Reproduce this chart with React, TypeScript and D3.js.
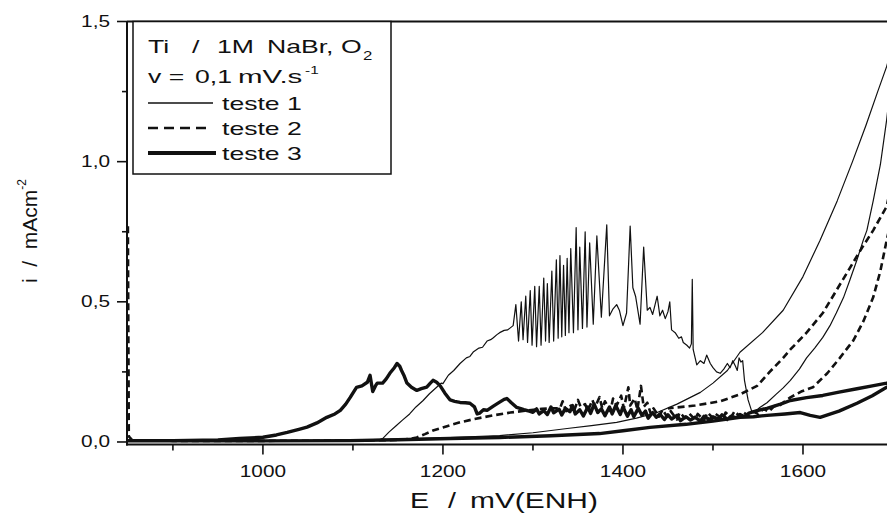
import React from 'react';
import * as d3 from 'd3';

const W = 887;
const H = 514;

// axis ticks
const xTicksMajor = [1000, 1200, 1400, 1600];
const xTickLabels = ['1000', '1200', '1400', '1600'];
const xTicksMinor = [900, 1100, 1300, 1500, 1700];
const yTicksMajor = [0, 0.5, 1.0, 1.5];
const yTickLabels = ['0,0', '0,5', '1,0', '1,5'];
const yTicksMinor = [0.25, 0.75, 1.25];

// teste 1: anodic sweep (pitting with current oscillations), E in mV, i in mA/cm2
const teste1Forward: [number, number][] = [
  [850, 0.004], [900, 0.004], [1000, 0.005], [1100, 0.006], [1128, 0.006], [1133, 0.012],
  [1140, 0.035], [1148, 0.058], [1155, 0.078], [1163, 0.1], [1170, 0.125], [1178, 0.148],
  [1185, 0.172], [1193, 0.195], [1198, 0.21], [1200, 0.208], [1206, 0.238], [1212, 0.255],
  [1219, 0.28], [1226, 0.3], [1230, 0.305], [1234, 0.322], [1240, 0.335], [1244, 0.338],
  [1249, 0.36], [1253, 0.365], [1256, 0.372], [1260, 0.383], [1263, 0.39], [1268, 0.398],
  [1272, 0.4], [1278, 0.415],
  [1281, 0.49], [1284, 0.36], [1287, 0.5], [1289, 0.365], [1292, 0.52], [1294, 0.355],
  [1297, 0.54], [1299, 0.345], [1302, 0.555], [1304, 0.34], [1307, 0.555], [1309, 0.345],
  [1312, 0.585], [1314, 0.36], [1316, 0.565], [1318, 0.355], [1321, 0.61], [1323, 0.36],
  [1326, 0.65], [1328, 0.37], [1330, 0.665], [1332, 0.375], [1334, 0.63], [1336, 0.38],
  [1338, 0.655], [1340, 0.39], [1342, 0.69], [1345, 0.39], [1348, 0.765], [1350, 0.4],
  [1352, 0.695], [1355, 0.405], [1358, 0.75], [1360, 0.41], [1363, 0.71], [1367, 0.42],
  [1371, 0.735], [1376, 0.445], [1382, 0.775], [1385, 0.45], [1389, 0.475], [1393, 0.49],
  [1396, 0.47], [1400, 0.415], [1404, 0.46], [1408, 0.77], [1411, 0.55], [1414, 0.52],
  [1419, 0.42], [1423, 0.695], [1427, 0.47], [1430, 0.48], [1433, 0.455], [1438, 0.52],
  [1441, 0.45], [1444, 0.47], [1447, 0.44], [1450, 0.465], [1452, 0.5], [1454, 0.4],
  [1458, 0.39], [1462, 0.37], [1465, 0.375], [1467, 0.355], [1471, 0.345], [1474, 0.335],
  [1476, 0.35], [1477, 0.58], [1478, 0.33], [1482, 0.275], [1486, 0.29], [1490, 0.28],
  [1493, 0.31], [1497, 0.28], [1500, 0.265], [1504, 0.25], [1508, 0.245], [1512, 0.26],
  [1516, 0.28], [1519, 0.265], [1522, 0.29], [1525, 0.27], [1527, 0.255], [1529, 0.3],
  [1531, 0.285], [1533, 0.29], [1535, 0.22], [1539, 0.15], [1543, 0.11], [1547, 0.108],
  [1552, 0.123], [1560, 0.14], [1570, 0.17], [1578, 0.193], [1586, 0.22], [1596, 0.26],
  [1604, 0.3], [1613, 0.335], [1622, 0.373], [1630, 0.415], [1637, 0.46], [1645, 0.515],
  [1652, 0.577], [1660, 0.65], [1667, 0.72], [1671, 0.755], [1678, 0.86], [1686, 0.99],
  [1693, 1.15], [1700, 1.35],
];

// teste 1: return sweep
const teste1Reverse: [number, number][] = [
  [1700, 1.42], [1693, 1.34], [1683, 1.25], [1670, 1.13], [1655, 1.0], [1638, 0.86],
  [1619, 0.72], [1600, 0.59], [1578, 0.47], [1555, 0.39], [1530, 0.32], [1516, 0.255],
  [1500, 0.21], [1486, 0.177], [1460, 0.135], [1438, 0.105], [1415, 0.085], [1393, 0.07],
  [1365, 0.058], [1338, 0.048], [1300, 0.033], [1263, 0.023], [1208, 0.016], [1150, 0.01],
  [1080, 0.006], [1000, 0.004], [850, 0.003],
];

// teste 2: anodic sweep
const teste2Forward: [number, number][] = [
  [850, 0.77], [851, 0.02], [855, 0.006], [900, 0.004], [1000, 0.004], [1100, 0.005],
  [1150, 0.007], [1165, 0.012], [1171, 0.016], [1180, 0.028], [1189, 0.041], [1200, 0.052],
  [1210, 0.062], [1219, 0.07], [1235, 0.082], [1256, 0.095], [1275, 0.105], [1293, 0.112],
  [1310, 0.118], [1320, 0.12],
  [1330, 0.12], [1333, 0.145], [1337, 0.11], [1342, 0.13], [1345, 0.105], [1350, 0.15],
  [1353, 0.125], [1358, 0.135], [1361, 0.11], [1366, 0.15], [1369, 0.125], [1374, 0.16],
  [1377, 0.12], [1380, 0.145], [1386, 0.11], [1389, 0.155], [1393, 0.13], [1398, 0.165],
  [1401, 0.12], [1406, 0.195], [1408, 0.13], [1413, 0.155], [1416, 0.115], [1420, 0.2],
  [1423, 0.125], [1427, 0.14], [1431, 0.1], [1434, 0.12], [1440, 0.09], [1444, 0.115],
  [1449, 0.09], [1453, 0.11], [1460, 0.08], [1463, 0.105], [1469, 0.085], [1474, 0.1],
  [1480, 0.08], [1483, 0.1], [1490, 0.078], [1494, 0.105], [1500, 0.085], [1503, 0.1],
  [1511, 0.082], [1514, 0.105], [1520, 0.088], [1524, 0.11], [1530, 0.09], [1534, 0.105],
  [1540, 0.092], [1545, 0.108], [1550, 0.1], [1556, 0.118], [1562, 0.108], [1568, 0.128],
  [1574, 0.13], [1580, 0.145], [1586, 0.159], [1598, 0.18], [1611, 0.195], [1627, 0.245],
  [1641, 0.3], [1656, 0.3625], [1667, 0.43], [1678, 0.516], [1686, 0.61], [1693, 0.72],
  [1700, 0.82],
];

// teste 2: return sweep
const teste2Reverse: [number, number][] = [
  [1700, 0.95], [1693, 0.84], [1678, 0.755], [1665, 0.69], [1652, 0.62], [1637, 0.54],
  [1622, 0.46], [1604, 0.39], [1586, 0.33], [1578, 0.3], [1563, 0.25], [1549, 0.2],
  [1530, 0.17], [1508, 0.145], [1480, 0.13], [1450, 0.12],
];

// teste 3: anodic sweep
const teste3Forward: [number, number][] = [
  [850, 0.005], [900, 0.005], [950, 0.007], [974, 0.0125], [1000, 0.017], [1015, 0.025],
  [1027, 0.034], [1040, 0.045], [1049, 0.053], [1060, 0.068], [1071, 0.088], [1080, 0.1],
  [1086, 0.113], [1092, 0.135], [1097, 0.159], [1101, 0.18], [1104, 0.195], [1110, 0.2],
  [1116, 0.213], [1119, 0.238], [1122, 0.18], [1125, 0.2], [1127, 0.21], [1133, 0.21],
  [1137, 0.225], [1141, 0.245], [1146, 0.265], [1149, 0.28], [1152, 0.27], [1154, 0.255],
  [1157, 0.235], [1160, 0.21], [1165, 0.195], [1171, 0.184], [1176, 0.19], [1182, 0.196],
  [1186, 0.21], [1189, 0.22], [1193, 0.213], [1197, 0.2], [1202, 0.175], [1208, 0.15],
  [1213, 0.145], [1219, 0.141], [1225, 0.14], [1230, 0.138], [1235, 0.125], [1238, 0.1],
  [1241, 0.103], [1245, 0.115], [1249, 0.113], [1256, 0.128], [1263, 0.142], [1268, 0.152],
  [1271, 0.155], [1276, 0.14], [1282, 0.123], [1290, 0.115], [1296, 0.11], [1300, 0.106],
  [1304, 0.118], [1307, 0.1], [1312, 0.112], [1316, 0.098], [1320, 0.125], [1323, 0.104],
  [1329, 0.117], [1332, 0.096], [1336, 0.12], [1341, 0.108], [1344, 0.13], [1347, 0.1],
  [1352, 0.115], [1356, 0.093], [1361, 0.125], [1364, 0.102], [1368, 0.135], [1372, 0.105],
  [1376, 0.118], [1380, 0.094], [1385, 0.125], [1388, 0.1], [1392, 0.13], [1397, 0.098],
  [1400, 0.125], [1405, 0.092], [1409, 0.115], [1412, 0.09], [1417, 0.12], [1421, 0.095],
  [1425, 0.11], [1428, 0.085], [1433, 0.105], [1437, 0.088], [1441, 0.1], [1446, 0.08],
  [1450, 0.097], [1454, 0.082], [1460, 0.095], [1464, 0.076], [1470, 0.09], [1475, 0.078],
  [1480, 0.088], [1486, 0.075], [1490, 0.092], [1496, 0.08], [1500, 0.09], [1506, 0.082],
  [1510, 0.097], [1516, 0.08], [1520, 0.092], [1526, 0.086], [1530, 0.098], [1535, 0.09],
  [1540, 0.103], [1549, 0.112], [1560, 0.12], [1575, 0.135], [1586, 0.148], [1604, 0.158],
  [1622, 0.166], [1640, 0.178], [1660, 0.19], [1677, 0.2], [1693, 0.21], [1700, 0.215],
];

// teste 3: return sweep
const teste3Reverse: [number, number][] = [
  [1700, 0.205], [1693, 0.195], [1677, 0.165], [1660, 0.138], [1640, 0.11], [1619, 0.088],
  [1608, 0.095], [1597, 0.105], [1580, 0.1], [1560, 0.095], [1545, 0.09], [1530, 0.088],
  [1500, 0.075], [1470, 0.063], [1430, 0.052], [1400, 0.04], [1374, 0.03], [1320, 0.022],
  [1263, 0.016], [1208, 0.0125], [1150, 0.008], [1097, 0.005], [1000, 0.004], [850, 0.004],
];

const FONT = '"Liberation Sans", Arial, Helvetica, sans-serif';
const INK = '#111';

const PLOT = { left: 127, right: 893, top: 21.5, bottom: 444.5 };

function SText({ x, y, size, sx = 1.3, anchor = 'start', children }: any) {
  return (
    <text
      transform={`translate(${x},${y}) scale(${sx},1)`}
      fontSize={size}
      fontFamily={FONT}
      textAnchor={anchor}
      fill={INK}
    >
      {children}
    </text>
  );
}

export default function App() {
  const x = d3.scaleLinear().domain([849, 1700]).range([PLOT.left, PLOT.right]);
  const y = d3.scaleLinear().domain([-0.009, 1.5]).range([PLOT.bottom, PLOT.top]);
  const line = d3
    .line<[number, number]>()
    .x((d) => x(d[0]))
    .y((d) => y(d[1]));

  const t1 = line([...teste1Forward, ...teste1Reverse]) || '';
  const t2f = line(teste2Forward) || '';
  const t2r = line(teste2Reverse) || '';
  const t3 = line([...teste3Forward, ...teste3Reverse]) || '';

  return (
    <svg
      width={W}
      height={H}
      viewBox={`0 0 ${W} ${H}`}
      style={{ position: 'fixed', left: 0, top: 0, background: '#fff' }}
    >
      <defs>
        <clipPath id="plotArea">
          <rect x={PLOT.left} y={PLOT.top} width={PLOT.right - PLOT.left} height={PLOT.bottom - PLOT.top} />
        </clipPath>
      </defs>
      <rect x={0} y={0} width={W} height={H} fill="#fff" />

      {/* data */}
      <g clipPath="url(#plotArea)" fill="none" stroke={INK} strokeLinejoin="round">
        <path d={t1} strokeWidth={1.2} />
        <path d={t2f} strokeWidth={2.6} strokeDasharray="7 4" />
        <path d={t2r} strokeWidth={2.6} strokeDasharray="7 4" />
        <path d={t3} strokeWidth={3.4} />
      </g>

      {/* frame */}
      <g stroke={INK} fill="none">
        <line x1={PLOT.left} x2={W} y1={PLOT.top} y2={PLOT.top} strokeWidth={1.8} />
        <line x1={PLOT.left} x2={PLOT.left} y1={PLOT.top} y2={PLOT.bottom + 1} strokeWidth={2} />
        <line x1={PLOT.left - 1} x2={W} y1={PLOT.bottom} y2={PLOT.bottom} strokeWidth={2.2} />
        {xTicksMajor.map((t) => (
          <line key={`xM${t}`} x1={x(t)} x2={x(t)} y1={PLOT.bottom} y2={PLOT.bottom + 10} strokeWidth={1.6} />
        ))}
        {xTicksMinor.map((t) => (
          <line key={`xm${t}`} x1={x(t)} x2={x(t)} y1={PLOT.bottom} y2={PLOT.bottom + 6} strokeWidth={1.6} />
        ))}
        {yTicksMajor.map((t) => (
          <line key={`yM${t}`} x1={PLOT.left} x2={PLOT.left - 10} y1={y(t)} y2={y(t)} strokeWidth={1.6} />
        ))}
        {yTicksMinor.map((t) => (
          <line key={`ym${t}`} x1={PLOT.left} x2={PLOT.left - 5} y1={y(t)} y2={y(t)} strokeWidth={1.6} />
        ))}
      </g>

      {/* tick labels */}
      {xTicksMajor.map((t, i) => (
        <SText key={`xl${t}`} x={x(t)} y={477} size={16} anchor="middle">
          {xTickLabels[i]}
        </SText>
      ))}
      {yTicksMajor.map((t, i) => (
        <SText key={`yl${t}`} x={110} y={y(t) + 5.5} size={16} anchor="end">
          {yTickLabels[i]}
        </SText>
      ))}

      {/* axis titles */}
      <SText x={410} y={508} size={22}>E</SText>
      <SText x={448} y={508} size={22}>/</SText>
      <SText x={470} y={508} size={22} sx={1.36}>mV(ENH)</SText>
      <text
        transform="translate(37,283) rotate(-90)"
        fontSize={21}
        fontFamily={FONT}
        fill={INK}
        style={{ whiteSpace: 'pre' }}
      >
        {'i  /  mAcm'}
        <tspan fontSize={12} dy={-11}>-2</tspan>
      </text>

      {/* legend */}
      <rect x={133} y={PLOT.top} width={258} height={152.5} fill="#fff" stroke={INK} strokeWidth={1.5} />
      <SText x={148} y={53} size={19} sx={1.4}>Ti</SText>
      <SText x={192} y={53} size={19} sx={1.4}>/</SText>
      <SText x={217} y={53} size={19} sx={1.4}>1M</SText>
      <SText x={267} y={53} size={19} sx={1.4}>NaBr,</SText>
      <SText x={341} y={53} size={19} sx={1.4}>O</SText>
      <SText x={363} y={60} size={12} sx={1.4}>2</SText>
      <SText x={148} y={83} size={19} sx={1.4}>v =</SText>
      <SText x={195} y={83} size={19} sx={1.4}>0,1</SText>
      <SText x={238} y={83} size={19} sx={1.55}>mV.s</SText>
      <SText x={305} y={74} size={11} sx={1.4}>-1</SText>

      <g stroke={INK} fill="none">
        <line x1={148} x2={213} y1={103} y2={103} strokeWidth={1.3} />
        <line x1={148} x2={212} y1={128} y2={128} strokeWidth={2.6} strokeDasharray="10 6" />
        <line x1={148} x2={216} y1={153} y2={153} strokeWidth={4} />
      </g>
      <SText x={222} y={110} size={19} sx={1.4}>teste 1</SText>
      <SText x={222} y={135} size={19} sx={1.4}>teste 2</SText>
      <SText x={222} y={160} size={19} sx={1.4}>teste 3</SText>
    </svg>
  );
}
